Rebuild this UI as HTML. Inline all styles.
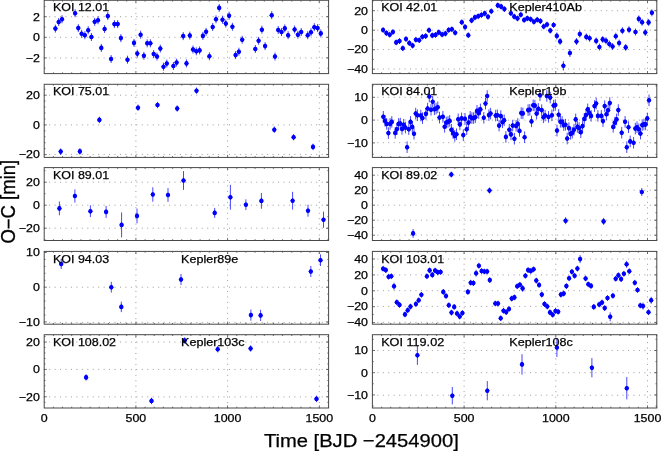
<!DOCTYPE html>
<html><head><meta charset="utf-8"><title>O-C</title>
<style>html,body{margin:0;padding:0;background:#fff;}svg{display:block;font-family:"Liberation Sans",Arial,Helvetica,sans-serif;}</style></head>
<body>
<svg width="661" height="451" viewBox="0 0 661 451">
<rect width="661" height="451" fill="#fff"/>
<defs><g id="d"><ellipse rx="2.1" ry="2.3" fill="#0000ff"/><path d="M0,-2.55 L2.3,0 L0,2.55 L-2.3,0 Z" fill="#0000ff"/></g></defs>
<g><line x1="135.9" y1="74.1" x2="135.9" y2="0.3" stroke="#9c9c9c" stroke-width="1" stroke-dasharray="1 4.45"/>
<line x1="227.6" y1="74.1" x2="227.6" y2="0.3" stroke="#9c9c9c" stroke-width="1" stroke-dasharray="1 4.45"/>
<line x1="319.3" y1="74.1" x2="319.3" y2="0.3" stroke="#9c9c9c" stroke-width="1" stroke-dasharray="1 4.45"/>
<line x1="43.7" y1="16.7" x2="328.6" y2="16.7" stroke="#9c9c9c" stroke-width="1" stroke-dasharray="1 4.45"/>
<line x1="43.7" y1="37.3" x2="328.6" y2="37.3" stroke="#9c9c9c" stroke-width="1" stroke-dasharray="1 4.45"/>
<line x1="43.7" y1="58.0" x2="328.6" y2="58.0" stroke="#9c9c9c" stroke-width="1" stroke-dasharray="1 4.45"/>
<path d="M53.4,73.6v-1.3M53.4,0.3v1.3M62.5,73.6v-1.3M62.5,0.3v1.3M71.7,73.6v-1.3M71.7,0.3v1.3M80.9,73.6v-1.3M80.9,0.3v1.3M90.1,73.6v-1.3M90.1,0.3v1.3M99.2,73.6v-1.3M99.2,0.3v1.3M108.4,73.6v-1.3M108.4,0.3v1.3M117.6,73.6v-1.3M117.6,0.3v1.3M126.7,73.6v-1.3M126.7,0.3v1.3M135.9,73.6v-2.6M135.9,0.3v2.6M145.1,73.6v-1.3M145.1,0.3v1.3M154.2,73.6v-1.3M154.2,0.3v1.3M163.4,73.6v-1.3M163.4,0.3v1.3M172.6,73.6v-1.3M172.6,0.3v1.3M181.8,73.6v-1.3M181.8,0.3v1.3M190.9,73.6v-1.3M190.9,0.3v1.3M200.1,73.6v-1.3M200.1,0.3v1.3M209.3,73.6v-1.3M209.3,0.3v1.3M218.4,73.6v-1.3M218.4,0.3v1.3M227.6,73.6v-2.6M227.6,0.3v2.6M236.8,73.6v-1.3M236.8,0.3v1.3M245.9,73.6v-1.3M245.9,0.3v1.3M255.1,73.6v-1.3M255.1,0.3v1.3M264.3,73.6v-1.3M264.3,0.3v1.3M273.4,73.6v-1.3M273.4,0.3v1.3M282.6,73.6v-1.3M282.6,0.3v1.3M291.8,73.6v-1.3M291.8,0.3v1.3M301.0,73.6v-1.3M301.0,0.3v1.3M310.1,73.6v-1.3M310.1,0.3v1.3M319.3,73.6v-2.6M319.3,0.3v2.6M328.5,73.6v-1.3M328.5,0.3v1.3M44.2,6.4h1.3M328.6,6.4h-1.3M44.2,16.7h2.6M328.6,16.7h-2.6M44.2,27.0h1.3M328.6,27.0h-1.3M44.2,37.3h2.6M328.6,37.3h-2.6M44.2,47.6h1.3M328.6,47.6h-1.3M44.2,57.9h2.6M328.6,57.9h-2.6M44.2,68.2h1.3M328.6,68.2h-1.3" stroke="#484848" stroke-width="0.8" fill="none"/>
<rect x="44.2" y="0.3" width="284.4" height="73.3" fill="none" stroke="#484848" stroke-width="1.0"/>
<text x="39.8" y="20.6" font-size="10.7" text-anchor="end" textLength="6.9" lengthAdjust="spacingAndGlyphs" fill="#000" stroke="#000" stroke-width="0.25">2</text>
<text x="39.8" y="41.2" font-size="10.7" text-anchor="end" textLength="6.9" lengthAdjust="spacingAndGlyphs" fill="#000" stroke="#000" stroke-width="0.25">0</text>
<text x="39.8" y="61.9" font-size="10.7" text-anchor="end" textLength="14.1" lengthAdjust="spacingAndGlyphs" fill="#000" stroke="#000" stroke-width="0.25">−2</text>
<path d="M55.4,24.6V32.6M58.7,18.0V26.0M62.0,15.3V23.3M75.1,9.2V17.2M78.3,24.1V32.1M81.6,29.8V37.8M84.9,31.2V39.2M88.2,26.2V34.2M91.4,33.0V41.0M94.7,17.8V25.8M98.0,16.2V24.2M101.3,43.9V51.9M104.6,25.0V33.0M107.8,12.1V20.1M111.1,55.0V63.0M114.4,20.1V28.1M117.7,20.1V28.1M120.9,34.1V42.1M127.5,55.7V63.7M134.0,38.9V46.9M137.3,49.6V57.6M140.6,30.7V38.7M143.9,51.8V59.8M147.2,39.3V47.3M150.4,39.3V47.3M153.7,50.0V58.0M157.0,52.5V60.5M160.3,44.6V52.6M163.5,62.7V70.7M166.8,59.5V67.5M173.4,62.0V70.0M176.6,58.6V66.6M183.2,32.1V40.1M186.5,59.4V67.4M189.8,31.6V39.6M193.0,45.5V53.5M196.3,47.3V55.3M199.6,46.4V54.4M202.9,31.9V39.9M206.1,27.8V35.8M209.4,52.3V60.3M212.7,23.0V31.0M216.0,15.3V23.3M219.2,3.9V11.9M222.5,15.7V23.7M225.8,19.6V27.6M229.1,11.7V19.7M232.4,22.8V30.8M235.6,51.1V59.1M238.9,47.7V55.7M242.2,35.7V43.7M255.3,45.0V53.0M258.6,36.8V44.8M261.9,25.7V33.7M265.1,42.1V50.1M271.7,11.2V19.2M275.0,52.5V60.5M278.2,26.0V34.0M281.5,28.0V36.0M284.8,24.4V32.4M288.1,31.2V39.2M294.6,25.5V33.5M297.9,30.7V38.7M301.2,28.0V36.0M307.7,31.2V39.2M311.0,28.2V36.2M314.3,23.2V31.2M317.6,24.1V32.1M320.8,29.4V37.4" stroke="#0000ff" stroke-width="1" stroke-opacity="0.72" fill="none"/>
<use href="#d" x="55.4" y="28.6"/>
<use href="#d" x="58.7" y="22.0"/>
<use href="#d" x="62.0" y="19.3"/>
<use href="#d" x="75.1" y="13.2"/>
<use href="#d" x="78.3" y="28.1"/>
<use href="#d" x="81.6" y="33.8"/>
<use href="#d" x="84.9" y="35.2"/>
<use href="#d" x="88.2" y="30.2"/>
<use href="#d" x="91.4" y="37.0"/>
<use href="#d" x="94.7" y="21.8"/>
<use href="#d" x="98.0" y="20.2"/>
<use href="#d" x="101.3" y="47.9"/>
<use href="#d" x="104.6" y="29.0"/>
<use href="#d" x="107.8" y="16.1"/>
<use href="#d" x="111.1" y="59.0"/>
<use href="#d" x="114.4" y="24.1"/>
<use href="#d" x="117.7" y="24.1"/>
<use href="#d" x="120.9" y="38.1"/>
<use href="#d" x="127.5" y="59.7"/>
<use href="#d" x="134.0" y="42.9"/>
<use href="#d" x="137.3" y="53.6"/>
<use href="#d" x="140.6" y="34.7"/>
<use href="#d" x="143.9" y="55.8"/>
<use href="#d" x="147.2" y="43.3"/>
<use href="#d" x="150.4" y="43.3"/>
<use href="#d" x="153.7" y="54.0"/>
<use href="#d" x="157.0" y="56.5"/>
<use href="#d" x="160.3" y="48.6"/>
<use href="#d" x="163.5" y="66.7"/>
<use href="#d" x="166.8" y="63.5"/>
<use href="#d" x="173.4" y="66.0"/>
<use href="#d" x="176.6" y="62.6"/>
<use href="#d" x="183.2" y="36.1"/>
<use href="#d" x="186.5" y="63.4"/>
<use href="#d" x="189.8" y="35.6"/>
<use href="#d" x="193.0" y="49.5"/>
<use href="#d" x="196.3" y="51.3"/>
<use href="#d" x="199.6" y="50.4"/>
<use href="#d" x="202.9" y="35.9"/>
<use href="#d" x="206.1" y="31.8"/>
<use href="#d" x="209.4" y="56.3"/>
<use href="#d" x="212.7" y="27.0"/>
<use href="#d" x="216.0" y="19.3"/>
<use href="#d" x="219.2" y="7.9"/>
<use href="#d" x="222.5" y="19.7"/>
<use href="#d" x="225.8" y="23.6"/>
<use href="#d" x="229.1" y="15.7"/>
<use href="#d" x="232.4" y="26.8"/>
<use href="#d" x="235.6" y="55.1"/>
<use href="#d" x="238.9" y="51.7"/>
<use href="#d" x="242.2" y="39.7"/>
<use href="#d" x="255.3" y="49.0"/>
<use href="#d" x="258.6" y="40.8"/>
<use href="#d" x="261.9" y="29.7"/>
<use href="#d" x="265.1" y="46.1"/>
<use href="#d" x="271.7" y="15.2"/>
<use href="#d" x="275.0" y="56.5"/>
<use href="#d" x="278.2" y="30.0"/>
<use href="#d" x="281.5" y="32.0"/>
<use href="#d" x="284.8" y="28.4"/>
<use href="#d" x="288.1" y="35.2"/>
<use href="#d" x="294.6" y="29.5"/>
<use href="#d" x="297.9" y="34.7"/>
<use href="#d" x="301.2" y="32.0"/>
<use href="#d" x="307.7" y="35.2"/>
<use href="#d" x="311.0" y="32.2"/>
<use href="#d" x="314.3" y="27.2"/>
<use href="#d" x="317.6" y="28.1"/>
<use href="#d" x="320.8" y="33.4"/>
<text x="53.0" y="11.4" font-size="11.6" text-anchor="start" textLength="56.1" lengthAdjust="spacingAndGlyphs" fill="#000" stroke="#000" stroke-width="0.25">KOI 12.01</text></g>
<g><line x1="464.1" y1="74.1" x2="464.1" y2="0.3" stroke="#9c9c9c" stroke-width="1" stroke-dasharray="1 4.45"/>
<line x1="555.8" y1="74.1" x2="555.8" y2="0.3" stroke="#9c9c9c" stroke-width="1" stroke-dasharray="1 4.45"/>
<line x1="647.5" y1="74.1" x2="647.5" y2="0.3" stroke="#9c9c9c" stroke-width="1" stroke-dasharray="1 4.45"/>
<line x1="371.9" y1="10.7" x2="656.8" y2="10.7" stroke="#9c9c9c" stroke-width="1" stroke-dasharray="1 4.45"/>
<line x1="371.9" y1="30.2" x2="656.8" y2="30.2" stroke="#9c9c9c" stroke-width="1" stroke-dasharray="1 4.45"/>
<line x1="371.9" y1="49.5" x2="656.8" y2="49.5" stroke="#9c9c9c" stroke-width="1" stroke-dasharray="1 4.45"/>
<line x1="371.9" y1="69.0" x2="656.8" y2="69.0" stroke="#9c9c9c" stroke-width="1" stroke-dasharray="1 4.45"/>
<path d="M381.6,73.6v-1.3M381.6,0.3v1.3M390.7,73.6v-1.3M390.7,0.3v1.3M399.9,73.6v-1.3M399.9,0.3v1.3M409.1,73.6v-1.3M409.1,0.3v1.3M418.2,73.6v-1.3M418.2,0.3v1.3M427.4,73.6v-1.3M427.4,0.3v1.3M436.6,73.6v-1.3M436.6,0.3v1.3M445.8,73.6v-1.3M445.8,0.3v1.3M454.9,73.6v-1.3M454.9,0.3v1.3M464.1,73.6v-2.6M464.1,0.3v2.6M473.3,73.6v-1.3M473.3,0.3v1.3M482.4,73.6v-1.3M482.4,0.3v1.3M491.6,73.6v-1.3M491.6,0.3v1.3M500.8,73.6v-1.3M500.8,0.3v1.3M509.9,73.6v-1.3M509.9,0.3v1.3M519.1,73.6v-1.3M519.1,0.3v1.3M528.3,73.6v-1.3M528.3,0.3v1.3M537.5,73.6v-1.3M537.5,0.3v1.3M546.6,73.6v-1.3M546.6,0.3v1.3M555.8,73.6v-2.6M555.8,0.3v2.6M565.0,73.6v-1.3M565.0,0.3v1.3M574.1,73.6v-1.3M574.1,0.3v1.3M583.3,73.6v-1.3M583.3,0.3v1.3M592.5,73.6v-1.3M592.5,0.3v1.3M601.6,73.6v-1.3M601.6,0.3v1.3M610.8,73.6v-1.3M610.8,0.3v1.3M620.0,73.6v-1.3M620.0,0.3v1.3M629.2,73.6v-1.3M629.2,0.3v1.3M638.3,73.6v-1.3M638.3,0.3v1.3M647.5,73.6v-2.6M647.5,0.3v2.6M656.7,73.6v-1.3M656.7,0.3v1.3M372.4,0.9h1.3M656.8,0.9h-1.3M372.4,10.7h2.6M656.8,10.7h-2.6M372.4,20.4h1.3M656.8,20.4h-1.3M372.4,30.2h2.6M656.8,30.2h-2.6M372.4,40.0h1.3M656.8,40.0h-1.3M372.4,49.7h2.6M656.8,49.7h-2.6M372.4,59.5h1.3M656.8,59.5h-1.3M372.4,69.2h2.6M656.8,69.2h-2.6" stroke="#484848" stroke-width="0.8" fill="none"/>
<rect x="372.4" y="0.3" width="284.4" height="73.3" fill="none" stroke="#484848" stroke-width="1.0"/>
<text x="368.0" y="14.6" font-size="10.7" text-anchor="end" textLength="13.8" lengthAdjust="spacingAndGlyphs" fill="#000" stroke="#000" stroke-width="0.25">20</text>
<text x="368.0" y="34.1" font-size="10.7" text-anchor="end" textLength="6.9" lengthAdjust="spacingAndGlyphs" fill="#000" stroke="#000" stroke-width="0.25">0</text>
<text x="368.0" y="53.4" font-size="10.7" text-anchor="end" textLength="21.0" lengthAdjust="spacingAndGlyphs" fill="#000" stroke="#000" stroke-width="0.25">−20</text>
<text x="368.0" y="72.9" font-size="10.7" text-anchor="end" textLength="21.0" lengthAdjust="spacingAndGlyphs" fill="#000" stroke="#000" stroke-width="0.25">−40</text>
<path d="M383.1,27.1V32.9M386.4,30.2V36.0M389.7,31.8V37.6M392.9,29.1V34.9M396.2,39.5V45.3M399.5,38.2V44.0M402.8,45.4V51.2M406.0,36.1V41.9M409.3,40.2V46.0M412.6,42.7V48.5M415.9,36.8V42.6M419.2,37.3V43.1M422.4,33.9V39.7M425.7,33.2V39.0M429.0,27.3V33.1M432.3,32.5V38.3M435.5,32.0V37.8M438.8,29.5V35.3M442.1,31.6V37.4M445.4,30.7V36.5M448.7,27.1V32.9M451.9,26.4V32.2M455.2,29.8V35.6M461.8,19.3V25.1M465.1,24.1V29.9M468.3,32.3V38.1M471.6,17.5V23.3M474.9,14.5V20.3M478.2,13.4V19.2M481.4,12.1V17.9M484.7,10.5V16.3M488.0,13.9V19.7M491.3,8.4V14.2M497.8,2.5V8.3M501.1,3.7V9.5M504.4,6.2V12.0M510.9,10.3V16.1M514.2,13.7V19.5M517.5,15.5V21.3M520.8,11.8V17.6M524.1,17.1V22.9M527.3,15.5V21.3M530.6,16.4V22.2M533.9,18.9V24.7M537.2,16.8V22.6M540.4,18.2V24.0M543.7,23.6V29.4M547.0,21.6V27.4M550.3,27.7V33.5M553.6,22.1V27.9M556.8,32.4V39.4M560.1,37.9V44.9M563.4,61.2V70.4M569.9,49.0V57.0M576.5,38.0V45.0M579.8,30.6V37.6M586.3,33.4V40.4M589.6,34.8V41.8M596.2,37.4V44.4M599.4,43.5V50.5M602.7,35.9V42.9M606.0,37.3V44.3M609.3,40.5V47.5M612.6,43.0V50.0M615.8,32.7V39.7M619.1,39.5V46.5M622.4,27.2V34.2M625.7,43.9V50.9M629.0,26.2V33.2M635.5,28.5V35.5M638.8,15.4V22.4M642.1,18.8V25.8M645.3,29.0V36.0M648.6,18.9V25.9M651.9,9.3V16.3" stroke="#0000ff" stroke-width="1" stroke-opacity="0.72" fill="none"/>
<use href="#d" x="383.1" y="30.0"/>
<use href="#d" x="386.4" y="33.1"/>
<use href="#d" x="389.7" y="34.7"/>
<use href="#d" x="392.9" y="32.0"/>
<use href="#d" x="396.2" y="42.4"/>
<use href="#d" x="399.5" y="41.1"/>
<use href="#d" x="402.8" y="48.3"/>
<use href="#d" x="406.0" y="39.0"/>
<use href="#d" x="409.3" y="43.1"/>
<use href="#d" x="412.6" y="45.6"/>
<use href="#d" x="415.9" y="39.7"/>
<use href="#d" x="419.2" y="40.2"/>
<use href="#d" x="422.4" y="36.8"/>
<use href="#d" x="425.7" y="36.1"/>
<use href="#d" x="429.0" y="30.2"/>
<use href="#d" x="432.3" y="35.4"/>
<use href="#d" x="435.5" y="34.9"/>
<use href="#d" x="438.8" y="32.4"/>
<use href="#d" x="442.1" y="34.5"/>
<use href="#d" x="445.4" y="33.6"/>
<use href="#d" x="448.7" y="30.0"/>
<use href="#d" x="451.9" y="29.3"/>
<use href="#d" x="455.2" y="32.7"/>
<use href="#d" x="461.8" y="22.2"/>
<use href="#d" x="465.1" y="27.0"/>
<use href="#d" x="468.3" y="35.2"/>
<use href="#d" x="471.6" y="20.4"/>
<use href="#d" x="474.9" y="17.4"/>
<use href="#d" x="478.2" y="16.3"/>
<use href="#d" x="481.4" y="15.0"/>
<use href="#d" x="484.7" y="13.4"/>
<use href="#d" x="488.0" y="16.8"/>
<use href="#d" x="491.3" y="11.3"/>
<use href="#d" x="497.8" y="5.4"/>
<use href="#d" x="501.1" y="6.6"/>
<use href="#d" x="504.4" y="9.1"/>
<use href="#d" x="510.9" y="13.2"/>
<use href="#d" x="514.2" y="16.6"/>
<use href="#d" x="517.5" y="18.4"/>
<use href="#d" x="520.8" y="14.7"/>
<use href="#d" x="524.1" y="20.0"/>
<use href="#d" x="527.3" y="18.4"/>
<use href="#d" x="530.6" y="19.3"/>
<use href="#d" x="533.9" y="21.8"/>
<use href="#d" x="537.2" y="19.7"/>
<use href="#d" x="540.4" y="21.1"/>
<use href="#d" x="543.7" y="26.5"/>
<use href="#d" x="547.0" y="24.5"/>
<use href="#d" x="550.3" y="30.6"/>
<use href="#d" x="553.6" y="25.0"/>
<use href="#d" x="556.8" y="35.9"/>
<use href="#d" x="560.1" y="41.4"/>
<use href="#d" x="563.4" y="65.8"/>
<use href="#d" x="569.9" y="53.0"/>
<use href="#d" x="576.5" y="41.5"/>
<use href="#d" x="579.8" y="34.1"/>
<use href="#d" x="586.3" y="36.9"/>
<use href="#d" x="589.6" y="38.3"/>
<use href="#d" x="596.2" y="40.9"/>
<use href="#d" x="599.4" y="47.0"/>
<use href="#d" x="602.7" y="39.4"/>
<use href="#d" x="606.0" y="40.8"/>
<use href="#d" x="609.3" y="44.0"/>
<use href="#d" x="612.6" y="46.5"/>
<use href="#d" x="615.8" y="36.2"/>
<use href="#d" x="619.1" y="43.0"/>
<use href="#d" x="622.4" y="30.7"/>
<use href="#d" x="625.7" y="47.4"/>
<use href="#d" x="629.0" y="29.7"/>
<use href="#d" x="635.5" y="32.0"/>
<use href="#d" x="638.8" y="18.9"/>
<use href="#d" x="642.1" y="22.3"/>
<use href="#d" x="645.3" y="32.5"/>
<use href="#d" x="648.6" y="22.4"/>
<use href="#d" x="651.9" y="12.8"/>
<text x="381.2" y="11.4" font-size="11.6" text-anchor="start" textLength="56.1" lengthAdjust="spacingAndGlyphs" fill="#000" stroke="#000" stroke-width="0.25">KOI 42.01</text>
<text x="509.3" y="11.4" font-size="11.6" text-anchor="start" textLength="72.6" lengthAdjust="spacingAndGlyphs" fill="#000" stroke="#000" stroke-width="0.25">Kepler410Ab</text></g>
<g><line x1="135.9" y1="157.9" x2="135.9" y2="84.3" stroke="#9c9c9c" stroke-width="1" stroke-dasharray="1 4.45"/>
<line x1="227.6" y1="157.9" x2="227.6" y2="84.3" stroke="#9c9c9c" stroke-width="1" stroke-dasharray="1 4.45"/>
<line x1="319.3" y1="157.9" x2="319.3" y2="84.3" stroke="#9c9c9c" stroke-width="1" stroke-dasharray="1 4.45"/>
<line x1="43.7" y1="95.2" x2="328.6" y2="95.2" stroke="#9c9c9c" stroke-width="1" stroke-dasharray="1 4.45"/>
<line x1="43.7" y1="124.9" x2="328.6" y2="124.9" stroke="#9c9c9c" stroke-width="1" stroke-dasharray="1 4.45"/>
<line x1="43.7" y1="154.4" x2="328.6" y2="154.4" stroke="#9c9c9c" stroke-width="1" stroke-dasharray="1 4.45"/>
<path d="M53.4,157.4v-1.3M53.4,84.3v1.3M62.5,157.4v-1.3M62.5,84.3v1.3M71.7,157.4v-1.3M71.7,84.3v1.3M80.9,157.4v-1.3M80.9,84.3v1.3M90.1,157.4v-1.3M90.1,84.3v1.3M99.2,157.4v-1.3M99.2,84.3v1.3M108.4,157.4v-1.3M108.4,84.3v1.3M117.6,157.4v-1.3M117.6,84.3v1.3M126.7,157.4v-1.3M126.7,84.3v1.3M135.9,157.4v-2.6M135.9,84.3v2.6M145.1,157.4v-1.3M145.1,84.3v1.3M154.2,157.4v-1.3M154.2,84.3v1.3M163.4,157.4v-1.3M163.4,84.3v1.3M172.6,157.4v-1.3M172.6,84.3v1.3M181.8,157.4v-1.3M181.8,84.3v1.3M190.9,157.4v-1.3M190.9,84.3v1.3M200.1,157.4v-1.3M200.1,84.3v1.3M209.3,157.4v-1.3M209.3,84.3v1.3M218.4,157.4v-1.3M218.4,84.3v1.3M227.6,157.4v-2.6M227.6,84.3v2.6M236.8,157.4v-1.3M236.8,84.3v1.3M245.9,157.4v-1.3M245.9,84.3v1.3M255.1,157.4v-1.3M255.1,84.3v1.3M264.3,157.4v-1.3M264.3,84.3v1.3M273.4,157.4v-1.3M273.4,84.3v1.3M282.6,157.4v-1.3M282.6,84.3v1.3M291.8,157.4v-1.3M291.8,84.3v1.3M301.0,157.4v-1.3M301.0,84.3v1.3M310.1,157.4v-1.3M310.1,84.3v1.3M319.3,157.4v-2.6M319.3,84.3v2.6M328.5,157.4v-1.3M328.5,84.3v1.3M44.2,89.3h1.3M328.6,89.3h-1.3M44.2,95.2h2.6M328.6,95.2h-2.6M44.2,101.1h1.3M328.6,101.1h-1.3M44.2,107.1h1.3M328.6,107.1h-1.3M44.2,113.0h1.3M328.6,113.0h-1.3M44.2,119.0h1.3M328.6,119.0h-1.3M44.2,124.9h2.6M328.6,124.9h-2.6M44.2,130.8h1.3M328.6,130.8h-1.3M44.2,136.8h1.3M328.6,136.8h-1.3M44.2,142.7h1.3M328.6,142.7h-1.3M44.2,148.7h1.3M328.6,148.7h-1.3M44.2,154.6h2.6M328.6,154.6h-2.6" stroke="#484848" stroke-width="0.8" fill="none"/>
<rect x="44.2" y="84.3" width="284.4" height="73.1" fill="none" stroke="#484848" stroke-width="1.0"/>
<text x="39.8" y="99.1" font-size="10.7" text-anchor="end" textLength="13.8" lengthAdjust="spacingAndGlyphs" fill="#000" stroke="#000" stroke-width="0.25">20</text>
<text x="39.8" y="128.8" font-size="10.7" text-anchor="end" textLength="6.9" lengthAdjust="spacingAndGlyphs" fill="#000" stroke="#000" stroke-width="0.25">0</text>
<text x="39.8" y="158.3" font-size="10.7" text-anchor="end" textLength="21.0" lengthAdjust="spacingAndGlyphs" fill="#000" stroke="#000" stroke-width="0.25">−20</text>
<path d="M60.7,148.4V154.8M79.9,148.2V154.6M99.4,116.7V123.1M138.0,104.5V110.9M157.5,101.8V108.2M177.2,105.3V111.7M196.5,87.5V93.9M274.3,126.5V132.9M293.6,134.0V140.4M313.0,143.7V150.1" stroke="#0000ff" stroke-width="1" stroke-opacity="0.72" fill="none"/>
<use href="#d" x="60.7" y="151.6"/>
<use href="#d" x="79.9" y="151.4"/>
<use href="#d" x="99.4" y="119.9"/>
<use href="#d" x="138.0" y="107.7"/>
<use href="#d" x="157.5" y="105.0"/>
<use href="#d" x="177.2" y="108.5"/>
<use href="#d" x="196.5" y="90.7"/>
<use href="#d" x="274.3" y="129.7"/>
<use href="#d" x="293.6" y="137.2"/>
<use href="#d" x="313.0" y="146.9"/>
<text x="53.0" y="95.4" font-size="11.6" text-anchor="start" textLength="56.1" lengthAdjust="spacingAndGlyphs" fill="#000" stroke="#000" stroke-width="0.25">KOI 75.01</text></g>
<g><line x1="464.1" y1="157.9" x2="464.1" y2="84.3" stroke="#9c9c9c" stroke-width="1" stroke-dasharray="1 4.45"/>
<line x1="555.8" y1="157.9" x2="555.8" y2="84.3" stroke="#9c9c9c" stroke-width="1" stroke-dasharray="1 4.45"/>
<line x1="647.5" y1="157.9" x2="647.5" y2="84.3" stroke="#9c9c9c" stroke-width="1" stroke-dasharray="1 4.45"/>
<line x1="371.9" y1="97.3" x2="656.8" y2="97.3" stroke="#9c9c9c" stroke-width="1" stroke-dasharray="1 4.45"/>
<line x1="371.9" y1="120.1" x2="656.8" y2="120.1" stroke="#9c9c9c" stroke-width="1" stroke-dasharray="1 4.45"/>
<line x1="371.9" y1="142.7" x2="656.8" y2="142.7" stroke="#9c9c9c" stroke-width="1" stroke-dasharray="1 4.45"/>
<path d="M381.6,157.4v-1.3M381.6,84.3v1.3M390.7,157.4v-1.3M390.7,84.3v1.3M399.9,157.4v-1.3M399.9,84.3v1.3M409.1,157.4v-1.3M409.1,84.3v1.3M418.2,157.4v-1.3M418.2,84.3v1.3M427.4,157.4v-1.3M427.4,84.3v1.3M436.6,157.4v-1.3M436.6,84.3v1.3M445.8,157.4v-1.3M445.8,84.3v1.3M454.9,157.4v-1.3M454.9,84.3v1.3M464.1,157.4v-2.6M464.1,84.3v2.6M473.3,157.4v-1.3M473.3,84.3v1.3M482.4,157.4v-1.3M482.4,84.3v1.3M491.6,157.4v-1.3M491.6,84.3v1.3M500.8,157.4v-1.3M500.8,84.3v1.3M509.9,157.4v-1.3M509.9,84.3v1.3M519.1,157.4v-1.3M519.1,84.3v1.3M528.3,157.4v-1.3M528.3,84.3v1.3M537.5,157.4v-1.3M537.5,84.3v1.3M546.6,157.4v-1.3M546.6,84.3v1.3M555.8,157.4v-2.6M555.8,84.3v2.6M565.0,157.4v-1.3M565.0,84.3v1.3M574.1,157.4v-1.3M574.1,84.3v1.3M583.3,157.4v-1.3M583.3,84.3v1.3M592.5,157.4v-1.3M592.5,84.3v1.3M601.6,157.4v-1.3M601.6,84.3v1.3M610.8,157.4v-1.3M610.8,84.3v1.3M620.0,157.4v-1.3M620.0,84.3v1.3M629.2,157.4v-1.3M629.2,84.3v1.3M638.3,157.4v-1.3M638.3,84.3v1.3M647.5,157.4v-2.6M647.5,84.3v2.6M656.7,157.4v-1.3M656.7,84.3v1.3M372.4,85.9h1.3M656.8,85.9h-1.3M372.4,97.3h2.6M656.8,97.3h-2.6M372.4,108.7h1.3M656.8,108.7h-1.3M372.4,120.1h2.6M656.8,120.1h-2.6M372.4,131.5h1.3M656.8,131.5h-1.3M372.4,142.9h2.6M656.8,142.9h-2.6M372.4,154.3h1.3M656.8,154.3h-1.3" stroke="#484848" stroke-width="0.8" fill="none"/>
<rect x="372.4" y="84.3" width="284.4" height="73.1" fill="none" stroke="#484848" stroke-width="1.0"/>
<text x="368.0" y="101.2" font-size="10.7" text-anchor="end" textLength="13.8" lengthAdjust="spacingAndGlyphs" fill="#000" stroke="#000" stroke-width="0.25">10</text>
<text x="368.0" y="124.0" font-size="10.7" text-anchor="end" textLength="6.9" lengthAdjust="spacingAndGlyphs" fill="#000" stroke="#000" stroke-width="0.25">0</text>
<text x="368.0" y="146.6" font-size="10.7" text-anchor="end" textLength="21.0" lengthAdjust="spacingAndGlyphs" fill="#000" stroke="#000" stroke-width="0.25">−10</text>
<path d="M383.3,111.0V122.6M385.0,115.1V126.7M386.7,118.1V129.7M388.4,127.3V138.9M390.1,118.1V129.7M391.8,116.1V127.7M395.2,127.1V138.7M396.9,123.4V135.0M398.6,118.1V129.7M400.3,117.8V129.4M402.0,123.1V134.7M403.7,118.9V130.5M405.4,121.8V133.4M407.1,141.4V153.0M408.8,123.4V135.0M410.5,116.1V127.7M412.3,121.1V132.7M414.0,127.9V139.5M415.7,107.8V119.4M417.4,109.5V121.1M420.8,109.8V121.4M422.5,112.3V123.9M425.9,108.1V119.7M427.6,102.8V114.4M429.3,90.7V102.3M431.0,104.0V115.6M432.7,96.0V107.6M434.4,103.5V115.1M436.1,102.8V114.4M437.8,101.5V113.1M439.5,111.8V123.4M442.9,111.0V122.6M444.6,121.0V132.6M446.3,116.8V128.4M448.0,116.1V127.7M449.7,115.1V126.7M451.4,123.9V135.5M453.1,127.3V138.9M454.8,130.1V141.7M456.5,128.4V140.0M458.2,113.5V125.1M459.9,118.6V130.2M461.6,112.6V124.2M463.3,129.3V140.9M465.0,113.1V124.7M466.7,123.4V135.0M468.5,116.8V128.4M470.2,111.0V122.6M471.9,112.3V123.9M473.6,112.3V123.9M475.3,111.5V123.1M477.0,105.1V116.7M478.7,107.3V118.9M480.4,103.6V115.2M483.8,112.0V123.6M485.5,97.8V109.4M487.2,90.2V101.8M488.9,109.3V120.9M490.6,107.8V119.4M495.7,109.8V121.4M497.4,109.5V121.1M499.1,119.8V131.4M500.8,110.3V121.9M502.5,116.5V128.1M504.2,114.5V126.1M505.9,131.1V142.7M509.3,123.9V135.5M511.0,128.6V140.2M512.7,119.8V131.4M514.4,132.9V144.5M516.1,120.1V131.7M517.8,118.1V129.7M519.5,125.1V136.7M521.2,107.3V118.9M522.9,107.6V119.2M524.6,131.4V143.0M528.1,104.3V115.9M529.8,104.0V115.6M531.5,115.6V127.2M533.2,99.5V111.1M534.9,99.8V111.4M536.6,107.8V119.4M538.3,103.1V114.7M540.0,89.5V101.1M541.7,104.3V115.9M543.4,111.5V123.1M545.1,109.8V121.4M546.8,90.2V101.8M548.5,111.1V122.7M550.2,91.8V103.4M551.9,109.5V121.1M553.6,99.8V111.4M555.3,99.3V110.9M557.0,124.8V136.4M558.7,109.0V120.6M560.4,116.0V127.6M562.1,116.1V127.7M563.8,119.3V130.9M565.5,118.9V130.5M567.2,132.7V144.3M568.9,122.3V133.9M570.6,128.1V139.7M572.3,126.9V138.5M574.0,123.9V135.5M575.7,113.6V125.2M577.4,121.1V132.7M579.1,122.3V133.9M580.8,126.4V138.0M582.6,120.3V131.9M584.3,113.1V124.7M586.0,109.3V120.9M587.7,103.6V115.2M589.4,107.3V118.9M591.1,110.1V121.7M594.5,100.3V111.9M596.2,97.7V109.3M597.9,110.1V121.7M601.3,110.1V121.7M603.0,115.3V126.9M604.7,100.3V111.9M606.4,108.5V120.1M608.1,104.5V116.1M609.8,97.3V108.9M613.2,121.1V132.7M614.9,116.8V128.4M616.6,113.6V125.2M618.3,104.3V115.9M621.7,126.9V138.5M625.1,116.0V127.6M626.8,141.4V153.0M628.5,121.4V133.0M630.2,135.6V147.2M633.6,136.9V148.5M635.3,122.8V134.4M637.0,121.4V133.0M638.8,123.4V135.0M640.5,127.8V139.4M642.2,119.3V130.9M643.9,118.6V130.2M645.6,118.6V130.2M647.3,112.6V124.2M649.0,94.5V106.1" stroke="#0000ff" stroke-width="1" stroke-opacity="0.72" fill="none"/>
<use href="#d" x="383.3" y="116.8"/>
<use href="#d" x="385.0" y="120.9"/>
<use href="#d" x="386.7" y="123.9"/>
<use href="#d" x="388.4" y="133.1"/>
<use href="#d" x="390.1" y="123.9"/>
<use href="#d" x="391.8" y="121.9"/>
<use href="#d" x="395.2" y="132.9"/>
<use href="#d" x="396.9" y="129.2"/>
<use href="#d" x="398.6" y="123.9"/>
<use href="#d" x="400.3" y="123.6"/>
<use href="#d" x="402.0" y="128.9"/>
<use href="#d" x="403.7" y="124.7"/>
<use href="#d" x="405.4" y="127.6"/>
<use href="#d" x="407.1" y="147.2"/>
<use href="#d" x="408.8" y="129.2"/>
<use href="#d" x="410.5" y="121.9"/>
<use href="#d" x="412.3" y="126.9"/>
<use href="#d" x="414.0" y="133.7"/>
<use href="#d" x="415.7" y="113.6"/>
<use href="#d" x="417.4" y="115.3"/>
<use href="#d" x="420.8" y="115.6"/>
<use href="#d" x="422.5" y="118.1"/>
<use href="#d" x="425.9" y="113.9"/>
<use href="#d" x="427.6" y="108.6"/>
<use href="#d" x="429.3" y="96.5"/>
<use href="#d" x="431.0" y="109.8"/>
<use href="#d" x="432.7" y="101.8"/>
<use href="#d" x="434.4" y="109.3"/>
<use href="#d" x="436.1" y="108.6"/>
<use href="#d" x="437.8" y="107.3"/>
<use href="#d" x="439.5" y="117.6"/>
<use href="#d" x="442.9" y="116.8"/>
<use href="#d" x="444.6" y="126.8"/>
<use href="#d" x="446.3" y="122.6"/>
<use href="#d" x="448.0" y="121.9"/>
<use href="#d" x="449.7" y="120.9"/>
<use href="#d" x="451.4" y="129.7"/>
<use href="#d" x="453.1" y="133.1"/>
<use href="#d" x="454.8" y="135.9"/>
<use href="#d" x="456.5" y="134.2"/>
<use href="#d" x="458.2" y="119.3"/>
<use href="#d" x="459.9" y="124.4"/>
<use href="#d" x="461.6" y="118.4"/>
<use href="#d" x="463.3" y="135.1"/>
<use href="#d" x="465.0" y="118.9"/>
<use href="#d" x="466.7" y="129.2"/>
<use href="#d" x="468.5" y="122.6"/>
<use href="#d" x="470.2" y="116.8"/>
<use href="#d" x="471.9" y="118.1"/>
<use href="#d" x="473.6" y="118.1"/>
<use href="#d" x="475.3" y="117.3"/>
<use href="#d" x="477.0" y="110.9"/>
<use href="#d" x="478.7" y="113.1"/>
<use href="#d" x="480.4" y="109.4"/>
<use href="#d" x="483.8" y="117.8"/>
<use href="#d" x="485.5" y="103.6"/>
<use href="#d" x="487.2" y="96.0"/>
<use href="#d" x="488.9" y="115.1"/>
<use href="#d" x="490.6" y="113.6"/>
<use href="#d" x="495.7" y="115.6"/>
<use href="#d" x="497.4" y="115.3"/>
<use href="#d" x="499.1" y="125.6"/>
<use href="#d" x="500.8" y="116.1"/>
<use href="#d" x="502.5" y="122.3"/>
<use href="#d" x="504.2" y="120.3"/>
<use href="#d" x="505.9" y="136.9"/>
<use href="#d" x="509.3" y="129.7"/>
<use href="#d" x="511.0" y="134.4"/>
<use href="#d" x="512.7" y="125.6"/>
<use href="#d" x="514.4" y="138.7"/>
<use href="#d" x="516.1" y="125.9"/>
<use href="#d" x="517.8" y="123.9"/>
<use href="#d" x="519.5" y="130.9"/>
<use href="#d" x="521.2" y="113.1"/>
<use href="#d" x="522.9" y="113.4"/>
<use href="#d" x="524.6" y="137.2"/>
<use href="#d" x="528.1" y="110.1"/>
<use href="#d" x="529.8" y="109.8"/>
<use href="#d" x="531.5" y="121.4"/>
<use href="#d" x="533.2" y="105.3"/>
<use href="#d" x="534.9" y="105.6"/>
<use href="#d" x="536.6" y="113.6"/>
<use href="#d" x="538.3" y="108.9"/>
<use href="#d" x="540.0" y="95.3"/>
<use href="#d" x="541.7" y="110.1"/>
<use href="#d" x="543.4" y="117.3"/>
<use href="#d" x="545.1" y="115.6"/>
<use href="#d" x="546.8" y="96.0"/>
<use href="#d" x="548.5" y="116.9"/>
<use href="#d" x="550.2" y="97.6"/>
<use href="#d" x="551.9" y="115.3"/>
<use href="#d" x="553.6" y="105.6"/>
<use href="#d" x="555.3" y="105.1"/>
<use href="#d" x="557.0" y="130.6"/>
<use href="#d" x="558.7" y="114.8"/>
<use href="#d" x="560.4" y="121.8"/>
<use href="#d" x="562.1" y="121.9"/>
<use href="#d" x="563.8" y="125.1"/>
<use href="#d" x="565.5" y="124.7"/>
<use href="#d" x="567.2" y="138.5"/>
<use href="#d" x="568.9" y="128.1"/>
<use href="#d" x="570.6" y="133.9"/>
<use href="#d" x="572.3" y="132.7"/>
<use href="#d" x="574.0" y="129.7"/>
<use href="#d" x="575.7" y="119.4"/>
<use href="#d" x="577.4" y="126.9"/>
<use href="#d" x="579.1" y="128.1"/>
<use href="#d" x="580.8" y="132.2"/>
<use href="#d" x="582.6" y="126.1"/>
<use href="#d" x="584.3" y="118.9"/>
<use href="#d" x="586.0" y="115.1"/>
<use href="#d" x="587.7" y="109.4"/>
<use href="#d" x="589.4" y="113.1"/>
<use href="#d" x="591.1" y="115.9"/>
<use href="#d" x="594.5" y="106.1"/>
<use href="#d" x="596.2" y="103.5"/>
<use href="#d" x="597.9" y="115.9"/>
<use href="#d" x="601.3" y="115.9"/>
<use href="#d" x="603.0" y="121.1"/>
<use href="#d" x="604.7" y="106.1"/>
<use href="#d" x="606.4" y="114.3"/>
<use href="#d" x="608.1" y="110.3"/>
<use href="#d" x="609.8" y="103.1"/>
<use href="#d" x="613.2" y="126.9"/>
<use href="#d" x="614.9" y="122.6"/>
<use href="#d" x="616.6" y="119.4"/>
<use href="#d" x="618.3" y="110.1"/>
<use href="#d" x="621.7" y="132.7"/>
<use href="#d" x="625.1" y="121.8"/>
<use href="#d" x="626.8" y="147.2"/>
<use href="#d" x="628.5" y="127.2"/>
<use href="#d" x="630.2" y="141.4"/>
<use href="#d" x="633.6" y="142.7"/>
<use href="#d" x="635.3" y="128.6"/>
<use href="#d" x="637.0" y="127.2"/>
<use href="#d" x="638.8" y="129.2"/>
<use href="#d" x="640.5" y="133.6"/>
<use href="#d" x="642.2" y="125.1"/>
<use href="#d" x="643.9" y="124.4"/>
<use href="#d" x="645.6" y="124.4"/>
<use href="#d" x="647.3" y="118.4"/>
<use href="#d" x="649.0" y="100.3"/>
<text x="381.2" y="95.4" font-size="11.6" text-anchor="start" textLength="56.1" lengthAdjust="spacingAndGlyphs" fill="#000" stroke="#000" stroke-width="0.25">KOI 84.01</text>
<text x="509.3" y="95.4" font-size="11.6" text-anchor="start" textLength="57.2" lengthAdjust="spacingAndGlyphs" fill="#000" stroke="#000" stroke-width="0.25">Kepler19b</text></g>
<g><line x1="135.9" y1="241.0" x2="135.9" y2="167.6" stroke="#9c9c9c" stroke-width="1" stroke-dasharray="1 4.45"/>
<line x1="227.6" y1="241.0" x2="227.6" y2="167.6" stroke="#9c9c9c" stroke-width="1" stroke-dasharray="1 4.45"/>
<line x1="319.3" y1="241.0" x2="319.3" y2="167.6" stroke="#9c9c9c" stroke-width="1" stroke-dasharray="1 4.45"/>
<line x1="43.7" y1="182.2" x2="328.6" y2="182.2" stroke="#9c9c9c" stroke-width="1" stroke-dasharray="1 4.45"/>
<line x1="43.7" y1="205.2" x2="328.6" y2="205.2" stroke="#9c9c9c" stroke-width="1" stroke-dasharray="1 4.45"/>
<line x1="43.7" y1="228.2" x2="328.6" y2="228.2" stroke="#9c9c9c" stroke-width="1" stroke-dasharray="1 4.45"/>
<path d="M53.4,240.5v-1.3M53.4,167.6v1.3M62.5,240.5v-1.3M62.5,167.6v1.3M71.7,240.5v-1.3M71.7,167.6v1.3M80.9,240.5v-1.3M80.9,167.6v1.3M90.1,240.5v-1.3M90.1,167.6v1.3M99.2,240.5v-1.3M99.2,167.6v1.3M108.4,240.5v-1.3M108.4,167.6v1.3M117.6,240.5v-1.3M117.6,167.6v1.3M126.7,240.5v-1.3M126.7,167.6v1.3M135.9,240.5v-2.6M135.9,167.6v2.6M145.1,240.5v-1.3M145.1,167.6v1.3M154.2,240.5v-1.3M154.2,167.6v1.3M163.4,240.5v-1.3M163.4,167.6v1.3M172.6,240.5v-1.3M172.6,167.6v1.3M181.8,240.5v-1.3M181.8,167.6v1.3M190.9,240.5v-1.3M190.9,167.6v1.3M200.1,240.5v-1.3M200.1,167.6v1.3M209.3,240.5v-1.3M209.3,167.6v1.3M218.4,240.5v-1.3M218.4,167.6v1.3M227.6,240.5v-2.6M227.6,167.6v2.6M236.8,240.5v-1.3M236.8,167.6v1.3M245.9,240.5v-1.3M245.9,167.6v1.3M255.1,240.5v-1.3M255.1,167.6v1.3M264.3,240.5v-1.3M264.3,167.6v1.3M273.4,240.5v-1.3M273.4,167.6v1.3M282.6,240.5v-1.3M282.6,167.6v1.3M291.8,240.5v-1.3M291.8,167.6v1.3M301.0,240.5v-1.3M301.0,167.6v1.3M310.1,240.5v-1.3M310.1,167.6v1.3M319.3,240.5v-2.6M319.3,167.6v2.6M328.5,240.5v-1.3M328.5,167.6v1.3M44.2,170.7h1.3M328.6,170.7h-1.3M44.2,182.2h2.6M328.6,182.2h-2.6M44.2,193.7h1.3M328.6,193.7h-1.3M44.2,205.2h2.6M328.6,205.2h-2.6M44.2,216.7h1.3M328.6,216.7h-1.3M44.2,228.2h2.6M328.6,228.2h-2.6M44.2,239.7h1.3M328.6,239.7h-1.3" stroke="#484848" stroke-width="0.8" fill="none"/>
<rect x="44.2" y="167.6" width="284.4" height="72.9" fill="none" stroke="#484848" stroke-width="1.0"/>
<text x="39.8" y="186.1" font-size="10.7" text-anchor="end" textLength="13.8" lengthAdjust="spacingAndGlyphs" fill="#000" stroke="#000" stroke-width="0.25">20</text>
<text x="39.8" y="209.1" font-size="10.7" text-anchor="end" textLength="6.9" lengthAdjust="spacingAndGlyphs" fill="#000" stroke="#000" stroke-width="0.25">0</text>
<text x="39.8" y="232.1" font-size="10.7" text-anchor="end" textLength="21.0" lengthAdjust="spacingAndGlyphs" fill="#000" stroke="#000" stroke-width="0.25">−20</text>
<path d="M59.4,201.5V215.3M74.9,189.4V202.6M90.4,205.3V217.1M106.1,205.9V217.9M121.6,212.4V237.4M137.0,208.5V223.3M152.8,187.3V201.7M168.0,188.1V201.9M183.5,171.1V189.9M214.7,207.9V217.9M230.4,184.8V209.6M245.9,199.3V210.1M261.4,193.0V208.8M292.6,191.8V209.6M308.0,204.7V216.7M323.5,211.7V227.7" stroke="#0000ff" stroke-width="1" stroke-opacity="0.72" fill="none"/>
<use href="#d" x="59.4" y="208.4"/>
<use href="#d" x="74.9" y="196.0"/>
<use href="#d" x="90.4" y="211.2"/>
<use href="#d" x="106.1" y="211.9"/>
<use href="#d" x="121.6" y="224.9"/>
<use href="#d" x="137.0" y="215.9"/>
<use href="#d" x="152.8" y="194.5"/>
<use href="#d" x="168.0" y="195.0"/>
<use href="#d" x="183.5" y="180.5"/>
<use href="#d" x="214.7" y="212.9"/>
<use href="#d" x="230.4" y="197.2"/>
<use href="#d" x="245.9" y="204.7"/>
<use href="#d" x="261.4" y="200.9"/>
<use href="#d" x="292.6" y="200.7"/>
<use href="#d" x="308.0" y="210.7"/>
<use href="#d" x="323.5" y="219.7"/>
<text x="53.0" y="178.7" font-size="11.6" text-anchor="start" textLength="56.1" lengthAdjust="spacingAndGlyphs" fill="#000" stroke="#000" stroke-width="0.25">KOI 89.01</text></g>
<g><line x1="464.1" y1="241.0" x2="464.1" y2="167.6" stroke="#9c9c9c" stroke-width="1" stroke-dasharray="1 4.45"/>
<line x1="555.8" y1="241.0" x2="555.8" y2="167.6" stroke="#9c9c9c" stroke-width="1" stroke-dasharray="1 4.45"/>
<line x1="647.5" y1="241.0" x2="647.5" y2="167.6" stroke="#9c9c9c" stroke-width="1" stroke-dasharray="1 4.45"/>
<line x1="371.9" y1="175.2" x2="656.8" y2="175.2" stroke="#9c9c9c" stroke-width="1" stroke-dasharray="1 4.45"/>
<line x1="371.9" y1="190.2" x2="656.8" y2="190.2" stroke="#9c9c9c" stroke-width="1" stroke-dasharray="1 4.45"/>
<line x1="371.9" y1="205.2" x2="656.8" y2="205.2" stroke="#9c9c9c" stroke-width="1" stroke-dasharray="1 4.45"/>
<line x1="371.9" y1="220.2" x2="656.8" y2="220.2" stroke="#9c9c9c" stroke-width="1" stroke-dasharray="1 4.45"/>
<line x1="371.9" y1="235.1" x2="656.8" y2="235.1" stroke="#9c9c9c" stroke-width="1" stroke-dasharray="1 4.45"/>
<path d="M381.6,240.5v-1.3M381.6,167.6v1.3M390.7,240.5v-1.3M390.7,167.6v1.3M399.9,240.5v-1.3M399.9,167.6v1.3M409.1,240.5v-1.3M409.1,167.6v1.3M418.2,240.5v-1.3M418.2,167.6v1.3M427.4,240.5v-1.3M427.4,167.6v1.3M436.6,240.5v-1.3M436.6,167.6v1.3M445.8,240.5v-1.3M445.8,167.6v1.3M454.9,240.5v-1.3M454.9,167.6v1.3M464.1,240.5v-2.6M464.1,167.6v2.6M473.3,240.5v-1.3M473.3,167.6v1.3M482.4,240.5v-1.3M482.4,167.6v1.3M491.6,240.5v-1.3M491.6,167.6v1.3M500.8,240.5v-1.3M500.8,167.6v1.3M509.9,240.5v-1.3M509.9,167.6v1.3M519.1,240.5v-1.3M519.1,167.6v1.3M528.3,240.5v-1.3M528.3,167.6v1.3M537.5,240.5v-1.3M537.5,167.6v1.3M546.6,240.5v-1.3M546.6,167.6v1.3M555.8,240.5v-2.6M555.8,167.6v2.6M565.0,240.5v-1.3M565.0,167.6v1.3M574.1,240.5v-1.3M574.1,167.6v1.3M583.3,240.5v-1.3M583.3,167.6v1.3M592.5,240.5v-1.3M592.5,167.6v1.3M601.6,240.5v-1.3M601.6,167.6v1.3M610.8,240.5v-1.3M610.8,167.6v1.3M620.0,240.5v-1.3M620.0,167.6v1.3M629.2,240.5v-1.3M629.2,167.6v1.3M638.3,240.5v-1.3M638.3,167.6v1.3M647.5,240.5v-2.6M647.5,167.6v2.6M656.7,240.5v-1.3M656.7,167.6v1.3M372.4,175.2h2.6M656.8,175.2h-2.6M372.4,182.7h1.3M656.8,182.7h-1.3M372.4,190.2h2.6M656.8,190.2h-2.6M372.4,197.7h1.3M656.8,197.7h-1.3M372.4,205.2h2.6M656.8,205.2h-2.6M372.4,212.7h1.3M656.8,212.7h-1.3M372.4,220.2h2.6M656.8,220.2h-2.6M372.4,227.7h1.3M656.8,227.7h-1.3M372.4,235.2h2.6M656.8,235.2h-2.6" stroke="#484848" stroke-width="0.8" fill="none"/>
<rect x="372.4" y="167.6" width="284.4" height="72.9" fill="none" stroke="#484848" stroke-width="1.0"/>
<text x="368.0" y="179.1" font-size="10.7" text-anchor="end" textLength="13.8" lengthAdjust="spacingAndGlyphs" fill="#000" stroke="#000" stroke-width="0.25">40</text>
<text x="368.0" y="194.1" font-size="10.7" text-anchor="end" textLength="13.8" lengthAdjust="spacingAndGlyphs" fill="#000" stroke="#000" stroke-width="0.25">20</text>
<text x="368.0" y="209.1" font-size="10.7" text-anchor="end" textLength="6.9" lengthAdjust="spacingAndGlyphs" fill="#000" stroke="#000" stroke-width="0.25">0</text>
<text x="368.0" y="224.1" font-size="10.7" text-anchor="end" textLength="21.0" lengthAdjust="spacingAndGlyphs" fill="#000" stroke="#000" stroke-width="0.25">−20</text>
<text x="368.0" y="239.0" font-size="10.7" text-anchor="end" textLength="21.0" lengthAdjust="spacingAndGlyphs" fill="#000" stroke="#000" stroke-width="0.25">−40</text>
<path d="M413.1,229.0V237.8M451.3,171.5V177.5M489.5,187.5V193.5M565.6,217.2V224.2M603.6,217.9V224.9M641.8,188.0V196.0" stroke="#0000ff" stroke-width="1" stroke-opacity="0.72" fill="none"/>
<use href="#d" x="413.1" y="233.4"/>
<use href="#d" x="451.3" y="174.5"/>
<use href="#d" x="489.5" y="190.5"/>
<use href="#d" x="565.6" y="220.7"/>
<use href="#d" x="603.6" y="221.4"/>
<use href="#d" x="641.8" y="192.0"/>
<text x="381.2" y="178.7" font-size="11.6" text-anchor="start" textLength="56.1" lengthAdjust="spacingAndGlyphs" fill="#000" stroke="#000" stroke-width="0.25">KOI 89.02</text></g>
<g><line x1="135.9" y1="324.7" x2="135.9" y2="251.4" stroke="#9c9c9c" stroke-width="1" stroke-dasharray="1 4.45"/>
<line x1="227.6" y1="324.7" x2="227.6" y2="251.4" stroke="#9c9c9c" stroke-width="1" stroke-dasharray="1 4.45"/>
<line x1="319.3" y1="324.7" x2="319.3" y2="251.4" stroke="#9c9c9c" stroke-width="1" stroke-dasharray="1 4.45"/>
<line x1="43.7" y1="287.2" x2="328.6" y2="287.2" stroke="#9c9c9c" stroke-width="1" stroke-dasharray="1 4.45"/>
<line x1="43.7" y1="322.4" x2="328.6" y2="322.4" stroke="#9c9c9c" stroke-width="1" stroke-dasharray="1 4.45"/>
<path d="M53.4,324.2v-1.3M53.4,251.4v1.3M62.5,324.2v-1.3M62.5,251.4v1.3M71.7,324.2v-1.3M71.7,251.4v1.3M80.9,324.2v-1.3M80.9,251.4v1.3M90.1,324.2v-1.3M90.1,251.4v1.3M99.2,324.2v-1.3M99.2,251.4v1.3M108.4,324.2v-1.3M108.4,251.4v1.3M117.6,324.2v-1.3M117.6,251.4v1.3M126.7,324.2v-1.3M126.7,251.4v1.3M135.9,324.2v-2.6M135.9,251.4v2.6M145.1,324.2v-1.3M145.1,251.4v1.3M154.2,324.2v-1.3M154.2,251.4v1.3M163.4,324.2v-1.3M163.4,251.4v1.3M172.6,324.2v-1.3M172.6,251.4v1.3M181.8,324.2v-1.3M181.8,251.4v1.3M190.9,324.2v-1.3M190.9,251.4v1.3M200.1,324.2v-1.3M200.1,251.4v1.3M209.3,324.2v-1.3M209.3,251.4v1.3M218.4,324.2v-1.3M218.4,251.4v1.3M227.6,324.2v-2.6M227.6,251.4v2.6M236.8,324.2v-1.3M236.8,251.4v1.3M245.9,324.2v-1.3M245.9,251.4v1.3M255.1,324.2v-1.3M255.1,251.4v1.3M264.3,324.2v-1.3M264.3,251.4v1.3M273.4,324.2v-1.3M273.4,251.4v1.3M282.6,324.2v-1.3M282.6,251.4v1.3M291.8,324.2v-1.3M291.8,251.4v1.3M301.0,324.2v-1.3M301.0,251.4v1.3M310.1,324.2v-1.3M310.1,251.4v1.3M319.3,324.2v-2.6M319.3,251.4v2.6M328.5,324.2v-1.3M328.5,251.4v1.3M44.2,252.5h2.6M328.6,252.5h-2.6M44.2,259.4h1.3M328.6,259.4h-1.3M44.2,266.4h1.3M328.6,266.4h-1.3M44.2,273.3h1.3M328.6,273.3h-1.3M44.2,280.3h1.3M328.6,280.3h-1.3M44.2,287.2h2.6M328.6,287.2h-2.6M44.2,294.1h1.3M328.6,294.1h-1.3M44.2,301.1h1.3M328.6,301.1h-1.3M44.2,308.0h1.3M328.6,308.0h-1.3M44.2,315.0h1.3M328.6,315.0h-1.3M44.2,321.9h2.6M328.6,321.9h-2.6" stroke="#484848" stroke-width="0.8" fill="none"/>
<rect x="44.2" y="251.4" width="284.4" height="72.8" fill="none" stroke="#484848" stroke-width="1.0"/>
<text x="39.8" y="256.4" font-size="10.7" text-anchor="end" textLength="13.8" lengthAdjust="spacingAndGlyphs" fill="#000" stroke="#000" stroke-width="0.25">10</text>
<text x="39.8" y="291.1" font-size="10.7" text-anchor="end" textLength="6.9" lengthAdjust="spacingAndGlyphs" fill="#000" stroke="#000" stroke-width="0.25">0</text>
<text x="39.8" y="326.3" font-size="10.7" text-anchor="end" textLength="21.0" lengthAdjust="spacingAndGlyphs" fill="#000" stroke="#000" stroke-width="0.25">−10</text>
<path d="M61.2,259.0V269.0M111.3,281.8V292.6M121.3,301.7V312.1M181.0,274.0V285.0M250.9,309.5V320.7M260.6,309.8V321.0M310.8,266.0V277.0M320.5,254.4V266.0" stroke="#0000ff" stroke-width="1" stroke-opacity="0.72" fill="none"/>
<use href="#d" x="61.2" y="264.0"/>
<use href="#d" x="111.3" y="287.2"/>
<use href="#d" x="121.3" y="306.9"/>
<use href="#d" x="181.0" y="279.5"/>
<use href="#d" x="250.9" y="315.1"/>
<use href="#d" x="260.6" y="315.4"/>
<use href="#d" x="310.8" y="271.5"/>
<use href="#d" x="320.5" y="260.2"/>
<text x="53.0" y="262.5" font-size="11.6" text-anchor="start" textLength="56.1" lengthAdjust="spacingAndGlyphs" fill="#000" stroke="#000" stroke-width="0.25">KOI 94.03</text>
<text x="181.1" y="262.5" font-size="11.6" text-anchor="start" textLength="57.2" lengthAdjust="spacingAndGlyphs" fill="#000" stroke="#000" stroke-width="0.25">Kepler89e</text></g>
<g><line x1="464.1" y1="324.7" x2="464.1" y2="251.4" stroke="#9c9c9c" stroke-width="1" stroke-dasharray="1 4.45"/>
<line x1="555.8" y1="324.7" x2="555.8" y2="251.4" stroke="#9c9c9c" stroke-width="1" stroke-dasharray="1 4.45"/>
<line x1="647.5" y1="324.7" x2="647.5" y2="251.4" stroke="#9c9c9c" stroke-width="1" stroke-dasharray="1 4.45"/>
<line x1="371.9" y1="259.0" x2="656.8" y2="259.0" stroke="#9c9c9c" stroke-width="1" stroke-dasharray="1 4.45"/>
<line x1="371.9" y1="274.9" x2="656.8" y2="274.9" stroke="#9c9c9c" stroke-width="1" stroke-dasharray="1 4.45"/>
<line x1="371.9" y1="290.7" x2="656.8" y2="290.7" stroke="#9c9c9c" stroke-width="1" stroke-dasharray="1 4.45"/>
<line x1="371.9" y1="306.4" x2="656.8" y2="306.4" stroke="#9c9c9c" stroke-width="1" stroke-dasharray="1 4.45"/>
<line x1="371.9" y1="322.3" x2="656.8" y2="322.3" stroke="#9c9c9c" stroke-width="1" stroke-dasharray="1 4.45"/>
<path d="M381.6,324.2v-1.3M381.6,251.4v1.3M390.7,324.2v-1.3M390.7,251.4v1.3M399.9,324.2v-1.3M399.9,251.4v1.3M409.1,324.2v-1.3M409.1,251.4v1.3M418.2,324.2v-1.3M418.2,251.4v1.3M427.4,324.2v-1.3M427.4,251.4v1.3M436.6,324.2v-1.3M436.6,251.4v1.3M445.8,324.2v-1.3M445.8,251.4v1.3M454.9,324.2v-1.3M454.9,251.4v1.3M464.1,324.2v-2.6M464.1,251.4v2.6M473.3,324.2v-1.3M473.3,251.4v1.3M482.4,324.2v-1.3M482.4,251.4v1.3M491.6,324.2v-1.3M491.6,251.4v1.3M500.8,324.2v-1.3M500.8,251.4v1.3M509.9,324.2v-1.3M509.9,251.4v1.3M519.1,324.2v-1.3M519.1,251.4v1.3M528.3,324.2v-1.3M528.3,251.4v1.3M537.5,324.2v-1.3M537.5,251.4v1.3M546.6,324.2v-1.3M546.6,251.4v1.3M555.8,324.2v-2.6M555.8,251.4v2.6M565.0,324.2v-1.3M565.0,251.4v1.3M574.1,324.2v-1.3M574.1,251.4v1.3M583.3,324.2v-1.3M583.3,251.4v1.3M592.5,324.2v-1.3M592.5,251.4v1.3M601.6,324.2v-1.3M601.6,251.4v1.3M610.8,324.2v-1.3M610.8,251.4v1.3M620.0,324.2v-1.3M620.0,251.4v1.3M629.2,324.2v-1.3M629.2,251.4v1.3M638.3,324.2v-1.3M638.3,251.4v1.3M647.5,324.2v-2.6M647.5,251.4v2.6M656.7,324.2v-1.3M656.7,251.4v1.3M372.4,259.0h2.6M656.8,259.0h-2.6M372.4,266.9h1.3M656.8,266.9h-1.3M372.4,274.9h2.6M656.8,274.9h-2.6M372.4,282.8h1.3M656.8,282.8h-1.3M372.4,290.8h2.6M656.8,290.8h-2.6M372.4,298.7h1.3M656.8,298.7h-1.3M372.4,306.7h2.6M656.8,306.7h-2.6M372.4,314.6h1.3M656.8,314.6h-1.3M372.4,322.6h2.6M656.8,322.6h-2.6" stroke="#484848" stroke-width="0.8" fill="none"/>
<rect x="372.4" y="251.4" width="284.4" height="72.8" fill="none" stroke="#484848" stroke-width="1.0"/>
<text x="368.0" y="262.9" font-size="10.7" text-anchor="end" textLength="13.8" lengthAdjust="spacingAndGlyphs" fill="#000" stroke="#000" stroke-width="0.25">40</text>
<text x="368.0" y="278.8" font-size="10.7" text-anchor="end" textLength="13.8" lengthAdjust="spacingAndGlyphs" fill="#000" stroke="#000" stroke-width="0.25">20</text>
<text x="368.0" y="294.6" font-size="10.7" text-anchor="end" textLength="6.9" lengthAdjust="spacingAndGlyphs" fill="#000" stroke="#000" stroke-width="0.25">0</text>
<text x="368.0" y="310.3" font-size="10.7" text-anchor="end" textLength="21.0" lengthAdjust="spacingAndGlyphs" fill="#000" stroke="#000" stroke-width="0.25">−20</text>
<text x="368.0" y="326.2" font-size="10.7" text-anchor="end" textLength="21.0" lengthAdjust="spacingAndGlyphs" fill="#000" stroke="#000" stroke-width="0.25">−40</text>
<path d="M383.1,265.8V271.6M385.8,267.2V273.0M388.6,273.8V279.6M391.3,273.3V279.1M394.0,282.7V289.7M396.8,299.4V305.2M399.5,302.0V307.8M405.0,311.5V317.3M407.7,307.3V313.1M410.5,303.7V309.5M415.9,301.1V306.9M418.7,297.3V303.1M421.4,291.9V297.7M426.9,273.3V279.1M429.6,267.5V273.3M432.3,272.0V277.8M435.1,267.7V273.5M437.8,269.4V275.2M440.6,269.1V274.9M443.3,289.0V294.8M446.0,293.1V298.9M448.8,302.3V308.1M451.5,309.7V315.5M454.2,304.0V309.8M457.0,310.6V316.4M459.7,313.6V319.4M462.4,310.1V315.9M467.9,289.0V294.8M470.7,279.8V285.6M473.4,280.2V286.0M476.1,269.7V276.7M478.9,262.9V268.7M481.6,268.1V273.9M484.3,268.6V274.4M487.1,268.6V274.4M489.8,277.2V283.0M495.3,300.6V306.4M498.0,300.6V306.4M500.7,315.3V321.1M503.5,307.8V313.6M506.2,309.2V315.0M509.0,306.1V311.9M511.7,295.7V301.5M514.4,294.5V300.3M517.2,283.3V289.1M519.9,281.9V287.7M522.6,284.9V291.9M525.4,272.9V278.7M528.1,267.2V273.0M530.8,268.0V273.8M533.6,266.4V272.2M536.3,277.7V283.5M539.1,282.1V287.9M541.8,291.7V297.5M544.5,301.2V307.0M547.3,303.6V309.4M550.0,309.5V315.3M552.7,311.9V317.7M555.5,308.1V313.9M558.2,308.9V314.7M560.9,291.7V297.5M563.7,290.7V296.5M566.4,283.2V289.0M569.1,275.4V281.2M571.9,268.9V274.7M574.6,272.9V278.7M577.4,265.7V271.5M580.1,255.1V263.1M585.6,275.6V281.4M588.3,281.4V287.2M591.0,283.0V288.8M593.8,304.0V309.8M599.2,301.6V307.4M602.0,299.6V305.4M604.7,305.2V311.0M607.5,295.1V300.9M610.2,312.3V321.3M612.9,292.9V298.7M615.7,275.8V281.6M618.4,272.3V278.1M621.1,276.2V282.0M623.9,270.9V276.7M626.6,260.8V267.8M629.3,268.3V274.1M634.8,279.8V285.6M637.5,287.1V292.9M640.3,302.6V308.4M643.0,302.6V309.6M648.5,309.3V315.1M651.2,296.8V303.8" stroke="#0000ff" stroke-width="1" stroke-opacity="0.72" fill="none"/>
<use href="#d" x="383.1" y="268.7"/>
<use href="#d" x="385.8" y="270.1"/>
<use href="#d" x="388.6" y="276.7"/>
<use href="#d" x="391.3" y="276.2"/>
<use href="#d" x="394.0" y="286.2"/>
<use href="#d" x="396.8" y="302.3"/>
<use href="#d" x="399.5" y="304.9"/>
<use href="#d" x="405.0" y="314.4"/>
<use href="#d" x="407.7" y="310.2"/>
<use href="#d" x="410.5" y="306.6"/>
<use href="#d" x="415.9" y="304.0"/>
<use href="#d" x="418.7" y="300.2"/>
<use href="#d" x="421.4" y="294.8"/>
<use href="#d" x="426.9" y="276.2"/>
<use href="#d" x="429.6" y="270.4"/>
<use href="#d" x="432.3" y="274.9"/>
<use href="#d" x="435.1" y="270.6"/>
<use href="#d" x="437.8" y="272.3"/>
<use href="#d" x="440.6" y="272.0"/>
<use href="#d" x="443.3" y="291.9"/>
<use href="#d" x="446.0" y="296.0"/>
<use href="#d" x="448.8" y="305.2"/>
<use href="#d" x="451.5" y="312.6"/>
<use href="#d" x="454.2" y="306.9"/>
<use href="#d" x="457.0" y="313.5"/>
<use href="#d" x="459.7" y="316.5"/>
<use href="#d" x="462.4" y="313.0"/>
<use href="#d" x="467.9" y="291.9"/>
<use href="#d" x="470.7" y="282.7"/>
<use href="#d" x="473.4" y="283.1"/>
<use href="#d" x="476.1" y="273.2"/>
<use href="#d" x="478.9" y="265.8"/>
<use href="#d" x="481.6" y="271.0"/>
<use href="#d" x="484.3" y="271.5"/>
<use href="#d" x="487.1" y="271.5"/>
<use href="#d" x="489.8" y="280.1"/>
<use href="#d" x="495.3" y="303.5"/>
<use href="#d" x="498.0" y="303.5"/>
<use href="#d" x="500.7" y="318.2"/>
<use href="#d" x="503.5" y="310.7"/>
<use href="#d" x="506.2" y="312.1"/>
<use href="#d" x="509.0" y="309.0"/>
<use href="#d" x="511.7" y="298.6"/>
<use href="#d" x="514.4" y="297.4"/>
<use href="#d" x="517.2" y="286.2"/>
<use href="#d" x="519.9" y="284.8"/>
<use href="#d" x="522.6" y="288.4"/>
<use href="#d" x="525.4" y="275.8"/>
<use href="#d" x="528.1" y="270.1"/>
<use href="#d" x="530.8" y="270.9"/>
<use href="#d" x="533.6" y="269.3"/>
<use href="#d" x="536.3" y="280.6"/>
<use href="#d" x="539.1" y="285.0"/>
<use href="#d" x="541.8" y="294.6"/>
<use href="#d" x="544.5" y="304.1"/>
<use href="#d" x="547.3" y="306.5"/>
<use href="#d" x="550.0" y="312.4"/>
<use href="#d" x="552.7" y="314.8"/>
<use href="#d" x="555.5" y="311.0"/>
<use href="#d" x="558.2" y="311.8"/>
<use href="#d" x="560.9" y="294.6"/>
<use href="#d" x="563.7" y="293.6"/>
<use href="#d" x="566.4" y="286.1"/>
<use href="#d" x="569.1" y="278.3"/>
<use href="#d" x="571.9" y="271.8"/>
<use href="#d" x="574.6" y="275.8"/>
<use href="#d" x="577.4" y="268.6"/>
<use href="#d" x="580.1" y="259.1"/>
<use href="#d" x="585.6" y="278.5"/>
<use href="#d" x="588.3" y="284.3"/>
<use href="#d" x="591.0" y="285.9"/>
<use href="#d" x="593.8" y="306.9"/>
<use href="#d" x="599.2" y="304.5"/>
<use href="#d" x="602.0" y="302.5"/>
<use href="#d" x="604.7" y="308.1"/>
<use href="#d" x="607.5" y="298.0"/>
<use href="#d" x="610.2" y="316.8"/>
<use href="#d" x="612.9" y="295.8"/>
<use href="#d" x="615.7" y="278.7"/>
<use href="#d" x="618.4" y="275.2"/>
<use href="#d" x="621.1" y="279.1"/>
<use href="#d" x="623.9" y="273.8"/>
<use href="#d" x="626.6" y="264.3"/>
<use href="#d" x="629.3" y="271.2"/>
<use href="#d" x="634.8" y="282.7"/>
<use href="#d" x="637.5" y="290.0"/>
<use href="#d" x="640.3" y="305.5"/>
<use href="#d" x="643.0" y="306.1"/>
<use href="#d" x="648.5" y="312.2"/>
<use href="#d" x="651.2" y="300.3"/>
<text x="381.2" y="262.5" font-size="11.6" text-anchor="start" textLength="63.0" lengthAdjust="spacingAndGlyphs" fill="#000" stroke="#000" stroke-width="0.25">KOI 103.01</text></g>
<g><line x1="135.9" y1="408.5" x2="135.9" y2="334.7" stroke="#9c9c9c" stroke-width="1" stroke-dasharray="1 4.45"/>
<line x1="227.6" y1="408.5" x2="227.6" y2="334.7" stroke="#9c9c9c" stroke-width="1" stroke-dasharray="1 4.45"/>
<line x1="319.3" y1="408.5" x2="319.3" y2="334.7" stroke="#9c9c9c" stroke-width="1" stroke-dasharray="1 4.45"/>
<line x1="43.7" y1="342.0" x2="328.6" y2="342.0" stroke="#9c9c9c" stroke-width="1" stroke-dasharray="1 4.45"/>
<line x1="43.7" y1="369.4" x2="328.6" y2="369.4" stroke="#9c9c9c" stroke-width="1" stroke-dasharray="1 4.45"/>
<line x1="43.7" y1="396.9" x2="328.6" y2="396.9" stroke="#9c9c9c" stroke-width="1" stroke-dasharray="1 4.45"/>
<path d="M53.4,408.0v-1.3M53.4,334.7v1.3M62.5,408.0v-1.3M62.5,334.7v1.3M71.7,408.0v-1.3M71.7,334.7v1.3M80.9,408.0v-1.3M80.9,334.7v1.3M90.1,408.0v-1.3M90.1,334.7v1.3M99.2,408.0v-1.3M99.2,334.7v1.3M108.4,408.0v-1.3M108.4,334.7v1.3M117.6,408.0v-1.3M117.6,334.7v1.3M126.7,408.0v-1.3M126.7,334.7v1.3M135.9,408.0v-2.6M135.9,334.7v2.6M145.1,408.0v-1.3M145.1,334.7v1.3M154.2,408.0v-1.3M154.2,334.7v1.3M163.4,408.0v-1.3M163.4,334.7v1.3M172.6,408.0v-1.3M172.6,334.7v1.3M181.8,408.0v-1.3M181.8,334.7v1.3M190.9,408.0v-1.3M190.9,334.7v1.3M200.1,408.0v-1.3M200.1,334.7v1.3M209.3,408.0v-1.3M209.3,334.7v1.3M218.4,408.0v-1.3M218.4,334.7v1.3M227.6,408.0v-2.6M227.6,334.7v2.6M236.8,408.0v-1.3M236.8,334.7v1.3M245.9,408.0v-1.3M245.9,334.7v1.3M255.1,408.0v-1.3M255.1,334.7v1.3M264.3,408.0v-1.3M264.3,334.7v1.3M273.4,408.0v-1.3M273.4,334.7v1.3M282.6,408.0v-1.3M282.6,334.7v1.3M291.8,408.0v-1.3M291.8,334.7v1.3M301.0,408.0v-1.3M301.0,334.7v1.3M310.1,408.0v-1.3M310.1,334.7v1.3M319.3,408.0v-2.6M319.3,334.7v2.6M328.5,408.0v-1.3M328.5,334.7v1.3M44.2,336.5h1.3M328.6,336.5h-1.3M44.2,342.0h2.6M328.6,342.0h-2.6M44.2,347.5h1.3M328.6,347.5h-1.3M44.2,353.0h1.3M328.6,353.0h-1.3M44.2,358.4h1.3M328.6,358.4h-1.3M44.2,363.9h1.3M328.6,363.9h-1.3M44.2,369.4h2.6M328.6,369.4h-2.6M44.2,374.9h1.3M328.6,374.9h-1.3M44.2,380.4h1.3M328.6,380.4h-1.3M44.2,385.8h1.3M328.6,385.8h-1.3M44.2,391.3h1.3M328.6,391.3h-1.3M44.2,396.8h2.6M328.6,396.8h-2.6M44.2,402.3h1.3M328.6,402.3h-1.3" stroke="#484848" stroke-width="0.8" fill="none"/>
<rect x="44.2" y="334.7" width="284.4" height="73.3" fill="none" stroke="#484848" stroke-width="1.0"/>
<text x="39.8" y="345.9" font-size="10.7" text-anchor="end" textLength="13.8" lengthAdjust="spacingAndGlyphs" fill="#000" stroke="#000" stroke-width="0.25">20</text>
<text x="39.8" y="373.3" font-size="10.7" text-anchor="end" textLength="6.9" lengthAdjust="spacingAndGlyphs" fill="#000" stroke="#000" stroke-width="0.25">0</text>
<text x="39.8" y="400.8" font-size="10.7" text-anchor="end" textLength="21.0" lengthAdjust="spacingAndGlyphs" fill="#000" stroke="#000" stroke-width="0.25">−20</text>
<path d="M86.1,374.2V380.6M151.5,397.7V404.1M184.7,337.3V343.7M217.7,346.0V352.4M250.6,345.3V351.7M316.5,395.7V402.1" stroke="#0000ff" stroke-width="1" stroke-opacity="0.72" fill="none"/>
<use href="#d" x="86.1" y="377.4"/>
<use href="#d" x="151.5" y="400.9"/>
<use href="#d" x="184.7" y="340.5"/>
<use href="#d" x="217.7" y="349.2"/>
<use href="#d" x="250.6" y="348.5"/>
<use href="#d" x="316.5" y="398.9"/>
<text x="53.0" y="345.8" font-size="11.6" text-anchor="start" textLength="63.0" lengthAdjust="spacingAndGlyphs" fill="#000" stroke="#000" stroke-width="0.25">KOI 108.02</text>
<text x="181.1" y="345.8" font-size="11.6" text-anchor="start" textLength="63.5" lengthAdjust="spacingAndGlyphs" fill="#000" stroke="#000" stroke-width="0.25">Kepler103c</text></g>
<g><line x1="464.1" y1="408.5" x2="464.1" y2="334.7" stroke="#9c9c9c" stroke-width="1" stroke-dasharray="1 4.45"/>
<line x1="555.8" y1="408.5" x2="555.8" y2="334.7" stroke="#9c9c9c" stroke-width="1" stroke-dasharray="1 4.45"/>
<line x1="647.5" y1="408.5" x2="647.5" y2="334.7" stroke="#9c9c9c" stroke-width="1" stroke-dasharray="1 4.45"/>
<line x1="371.9" y1="350.5" x2="656.8" y2="350.5" stroke="#9c9c9c" stroke-width="1" stroke-dasharray="1 4.45"/>
<line x1="371.9" y1="372.7" x2="656.8" y2="372.7" stroke="#9c9c9c" stroke-width="1" stroke-dasharray="1 4.45"/>
<line x1="371.9" y1="395.2" x2="656.8" y2="395.2" stroke="#9c9c9c" stroke-width="1" stroke-dasharray="1 4.45"/>
<path d="M381.6,408.0v-1.3M381.6,334.7v1.3M390.7,408.0v-1.3M390.7,334.7v1.3M399.9,408.0v-1.3M399.9,334.7v1.3M409.1,408.0v-1.3M409.1,334.7v1.3M418.2,408.0v-1.3M418.2,334.7v1.3M427.4,408.0v-1.3M427.4,334.7v1.3M436.6,408.0v-1.3M436.6,334.7v1.3M445.8,408.0v-1.3M445.8,334.7v1.3M454.9,408.0v-1.3M454.9,334.7v1.3M464.1,408.0v-2.6M464.1,334.7v2.6M473.3,408.0v-1.3M473.3,334.7v1.3M482.4,408.0v-1.3M482.4,334.7v1.3M491.6,408.0v-1.3M491.6,334.7v1.3M500.8,408.0v-1.3M500.8,334.7v1.3M509.9,408.0v-1.3M509.9,334.7v1.3M519.1,408.0v-1.3M519.1,334.7v1.3M528.3,408.0v-1.3M528.3,334.7v1.3M537.5,408.0v-1.3M537.5,334.7v1.3M546.6,408.0v-1.3M546.6,334.7v1.3M555.8,408.0v-2.6M555.8,334.7v2.6M565.0,408.0v-1.3M565.0,334.7v1.3M574.1,408.0v-1.3M574.1,334.7v1.3M583.3,408.0v-1.3M583.3,334.7v1.3M592.5,408.0v-1.3M592.5,334.7v1.3M601.6,408.0v-1.3M601.6,334.7v1.3M610.8,408.0v-1.3M610.8,334.7v1.3M620.0,408.0v-1.3M620.0,334.7v1.3M629.2,408.0v-1.3M629.2,334.7v1.3M638.3,408.0v-1.3M638.3,334.7v1.3M647.5,408.0v-2.6M647.5,334.7v2.6M656.7,408.0v-1.3M656.7,334.7v1.3M372.4,339.4h1.3M656.8,339.4h-1.3M372.4,350.5h2.6M656.8,350.5h-2.6M372.4,361.6h1.3M656.8,361.6h-1.3M372.4,372.7h2.6M656.8,372.7h-2.6M372.4,383.8h1.3M656.8,383.8h-1.3M372.4,394.9h2.6M656.8,394.9h-2.6M372.4,406.0h1.3M656.8,406.0h-1.3" stroke="#484848" stroke-width="0.8" fill="none"/>
<rect x="372.4" y="334.7" width="284.4" height="73.3" fill="none" stroke="#484848" stroke-width="1.0"/>
<text x="368.0" y="354.4" font-size="10.7" text-anchor="end" textLength="13.8" lengthAdjust="spacingAndGlyphs" fill="#000" stroke="#000" stroke-width="0.25">10</text>
<text x="368.0" y="376.6" font-size="10.7" text-anchor="end" textLength="6.9" lengthAdjust="spacingAndGlyphs" fill="#000" stroke="#000" stroke-width="0.25">0</text>
<text x="368.0" y="399.1" font-size="10.7" text-anchor="end" textLength="21.0" lengthAdjust="spacingAndGlyphs" fill="#000" stroke="#000" stroke-width="0.25">−10</text>
<path d="M417.4,345.5V364.9M452.3,387.0V404.4M487.3,381.1V400.3M522.0,354.2V374.6M556.9,338.0V357.0M591.9,358.1V377.3M626.8,377.0V399.4" stroke="#0000ff" stroke-width="1" stroke-opacity="0.72" fill="none"/>
<use href="#d" x="417.4" y="355.2"/>
<use href="#d" x="452.3" y="395.7"/>
<use href="#d" x="487.3" y="390.7"/>
<use href="#d" x="522.0" y="364.4"/>
<use href="#d" x="556.9" y="347.5"/>
<use href="#d" x="591.9" y="367.7"/>
<use href="#d" x="626.8" y="388.2"/>
<text x="381.2" y="345.8" font-size="11.6" text-anchor="start" textLength="63.0" lengthAdjust="spacingAndGlyphs" fill="#000" stroke="#000" stroke-width="0.25">KOI 119.02</text>
<text x="509.3" y="345.8" font-size="11.6" text-anchor="start" textLength="63.5" lengthAdjust="spacingAndGlyphs" fill="#000" stroke="#000" stroke-width="0.25">Kepler108c</text></g>
<text x="44.2" y="422.3" font-size="10.7" text-anchor="middle" textLength="6.9" lengthAdjust="spacingAndGlyphs" fill="#000" stroke="#000" stroke-width="0.25">0</text>
<text x="135.9" y="422.3" font-size="10.7" text-anchor="middle" textLength="20.7" lengthAdjust="spacingAndGlyphs" fill="#000" stroke="#000" stroke-width="0.25">500</text>
<text x="227.6" y="422.3" font-size="10.7" text-anchor="middle" textLength="27.6" lengthAdjust="spacingAndGlyphs" fill="#000" stroke="#000" stroke-width="0.25">1000</text>
<text x="319.3" y="422.3" font-size="10.7" text-anchor="middle" textLength="27.6" lengthAdjust="spacingAndGlyphs" fill="#000" stroke="#000" stroke-width="0.25">1500</text>
<text x="372.4" y="422.3" font-size="10.7" text-anchor="middle" textLength="6.9" lengthAdjust="spacingAndGlyphs" fill="#000" stroke="#000" stroke-width="0.25">0</text>
<text x="464.1" y="422.3" font-size="10.7" text-anchor="middle" textLength="20.7" lengthAdjust="spacingAndGlyphs" fill="#000" stroke="#000" stroke-width="0.25">500</text>
<text x="555.8" y="422.3" font-size="10.7" text-anchor="middle" textLength="27.6" lengthAdjust="spacingAndGlyphs" fill="#000" stroke="#000" stroke-width="0.25">1000</text>
<text x="647.5" y="422.3" font-size="10.7" text-anchor="middle" textLength="27.6" lengthAdjust="spacingAndGlyphs" fill="#000" stroke="#000" stroke-width="0.25">1500</text>
<text x="263.9" y="447.0" font-size="18.3" text-anchor="start" textLength="194.9" lengthAdjust="spacingAndGlyphs" fill="#000" stroke="#000" stroke-width="0.25">Time [BJD −2454900]</text>
<text transform="translate(15.4,243.6) rotate(-90)" x="0" y="0" font-size="19.3" textLength="83.8" lengthAdjust="spacingAndGlyphs" fill="#000" stroke="#000" stroke-width="0.3">O−C [min]</text>
</svg>
</body></html>
